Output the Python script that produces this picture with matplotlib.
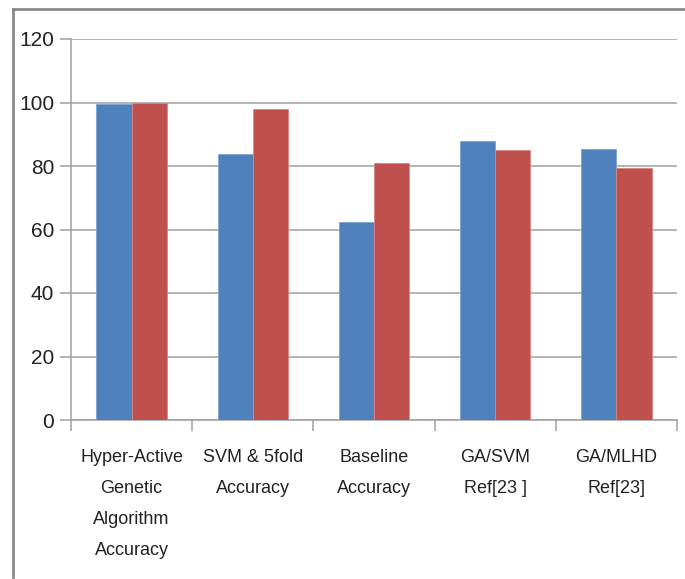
import numpy as np, matplotlib
matplotlib.use("Agg"); import matplotlib.pyplot as plt
from matplotlib.lines import Line2D

categories = ["Hyper-Active\nGenetic\nAlgorithm\nAccuracy", "SVM & 5fold\nAccuracy",
              "Baseline\nAccuracy", "GA/SVM\nRef[23 ]", "GA/MLHD\nRef[23]"]
series_a = [99.4, 83.8, 62.5, 87.9, 85.4]
series_b = [100.0, 98.0, 81.0, 85.0, 79.3]
yticks = [0, 20, 40, 60, 80, 100, 120]

BLU = "#4F81BD"; RED = "#C0504D"; GRID = "#a0a0a0"
plt.rcParams["font.family"] = ["Liberation Sans", "DejaVu Sans"]

fig = plt.figure(figsize=(6.85, 5.79), dpi=100)
ax = fig.add_axes([71/685, 1-420/579, (677-71)/685, (420-39)/579])

x = np.arange(len(categories))
w = 0.29
ax.bar(x - w/2, series_a, w, color=BLU, edgecolor="#7ea3d3", linewidth=0.6, zorder=3)
ax.bar(x + w/2, series_b, w, color=RED, edgecolor="#d98683", linewidth=0.6, zorder=3)

ax.set_xlim(-0.5, len(categories) - 0.5)
ax.set_ylim(0, 120)
ax.set_yticks(yticks)
ax.set_yticklabels([str(v) for v in yticks], fontsize=15, color="#222222")
ax.yaxis.grid(True, color=GRID, lw=1.1, zorder=0)
ax.set_axisbelow(True)

ax.set_xticks(np.arange(len(categories) + 1) - 0.5)
ax.set_xticklabels([])
ax.tick_params(axis="x", length=8, width=1.1, color=GRID)
ax.tick_params(axis="y", length=8, width=1.1, color=GRID, pad=4)
for i, c in enumerate(categories):
    ax.text(i, -9, c, ha="center", va="top", fontsize=13, color="#222222",
            linespacing=2.1)

for s in ["top", "right"]:
    ax.spines[s].set_visible(False)
for s in ["left", "bottom"]:
    ax.spines[s].set_color(GRID); ax.spines[s].set_linewidth(1.1)

# outer chart frame (top + left edges)
fig.add_artist(Line2D([13/685, 1], [1-9/579, 1-9/579], color="#8a8a8a", lw=2))
fig.add_artist(Line2D([13/685, 13/685], [1-9/579, 1-577/579], color="#8a8a8a", lw=2))

plt.savefig("out.png", dpi=100)
